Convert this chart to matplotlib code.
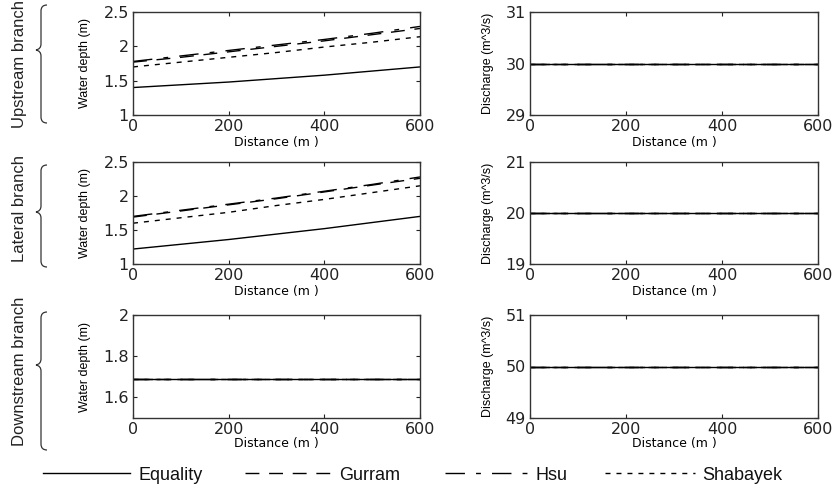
import matplotlib
matplotlib.use("Agg")
import matplotlib.pyplot as plt
from matplotlib.path import Path
from matplotlib.patches import PathPatch
from matplotlib.lines import Line2D

# distance along each branch (m)
distance = [0, 100, 200, 300, 400, 500, 600]

# water depth (m), upstream branch
up_equality = [1.40, 1.44, 1.48, 1.53, 1.58, 1.64, 1.70]
up_gurram = [1.77, 1.84, 1.92, 2.00, 2.08, 2.17, 2.26]
up_hsu = [1.78, 1.86, 1.94, 2.02, 2.10, 2.19, 2.29]
up_shabayek = [1.70, 1.77, 1.84, 1.91, 1.99, 2.06, 2.14]

# water depth (m), lateral branch
lat_equality = [1.22, 1.29, 1.36, 1.44, 1.52, 1.61, 1.70]
lat_gurram = [1.69, 1.78, 1.87, 1.96, 2.06, 2.16, 2.26]
lat_hsu = [1.70, 1.79, 1.88, 1.97, 2.07, 2.17, 2.28]
lat_shabayek = [1.60, 1.68, 1.76, 1.86, 1.95, 2.05, 2.15]

# water depth (m), downstream branch (all methods agree)
down_depth = [1.69, 1.69, 1.69, 1.69, 1.69, 1.69, 1.69]

# discharge (m^3/s)
up_q = [30, 30, 30, 30, 30, 30, 30]
lat_q = [20, 20, 20, 20, 20, 20, 20]
down_q = [50, 50, 50, 50, 50, 50, 50]

methods = ["Equality", "Gurram", "Hsu", "Shabayek"]
styles = ["-", (0, (10, 7)), (0, (14, 8, 3.5, 8)), (0, (3.6, 4.3))]
branches = ["Upstream branch", "Lateral branch", "Downstream branch"]

depth_series = [
    [up_equality, up_gurram, up_hsu, up_shabayek],
    [lat_equality, lat_gurram, lat_hsu, lat_shabayek],
    [down_depth] * 4,
]
q_series = [[up_q] * 4, [lat_q] * 4, [down_q] * 4]

depth_lims = [(1, 2.5), (1, 2.5), (1.5, 2)]
depth_ticks = [[1, 1.5, 2, 2.5], [1, 1.5, 2, 2.5], [1.6, 1.8, 2]]
q_lims = [(29, 31), (19, 21), (49, 51)]

W, H = 837, 488
fig = plt.figure(figsize=(W / 100, H / 100), dpi=100)
narrow = ["Liberation Sans", "DejaVu Sans"]

# rows in pixels: (top, bottom)
rows = [(12, 115), (162, 264), (315, 418)]
cols = [(133, 420), (530, 818)]


def pix_axes(x0, x1, y0, y1):
    return fig.add_axes([x0 / W, 1 - y1 / H, (x1 - x0) / W, (y1 - y0) / H])


def style_axes(ax):
    ax.set_xlim(0, 600)
    ax.set_xticks([0, 200, 400, 600])
    ax.tick_params(direction="in", top=True, right=True, length=3,
                   labelsize=11.5, pad=3, colors="#222222")
    for s in ax.spines.values():
        s.set_linewidth(1.0)
        s.set_color("#333333")


def fmt(v):
    return ("%g" % v)


for r in range(3):
    y0, y1 = rows[r]
    pad = 0 if r == 2 else 1.5

    ax = pix_axes(cols[0][0], cols[0][1], y0, y1)
    for k in range(4):
        ax.plot(distance, depth_series[r][k], color="black",
                linestyle=styles[k], lw=1.0)
    style_axes(ax)
    ax.set_ylim(*depth_lims[r])
    ax.set_yticks(depth_ticks[r])
    ax.set_yticklabels([fmt(v) for v in depth_ticks[r]])
    ax.set_ylabel("Water depth (m)", fontsize=9, family=narrow, labelpad=9)
    ax.set_xlabel("Distance (m )", fontsize=9, labelpad=pad)

    ax = pix_axes(cols[1][0], cols[1][1], y0, y1)
    for k in range(4):
        ax.plot(distance, q_series[r][k], color="black",
                linestyle=styles[k], lw=1.0)
    style_axes(ax)
    lo, hi = q_lims[r]
    ax.set_ylim(lo, hi)
    ax.set_yticks([lo, lo + 1, hi])
    ax.set_ylabel("Discharge (m^3/s)", fontsize=9, family=narrow, labelpad=8)
    ax.set_xlabel("Distance (m )", fontsize=9, labelpad=pad)


def fp(px, py):
    return (px / W, 1 - py / H)


def brace(top, tip, bottom, x=41):
    # left curly brace in pixel coords, tip pointing left
    verts = [fp(x + 6, top), fp(x, top), fp(x, top + 6),
             fp(x, tip - 6), fp(x, tip - 1), fp(x - 5, tip),
             fp(x, tip + 1), fp(x, tip + 6), fp(x, bottom - 6),
             fp(x, bottom), fp(x + 6, bottom)]
    codes = [Path.MOVETO, Path.CURVE3, Path.CURVE3,
             Path.LINETO, Path.CURVE3, Path.CURVE3,
             Path.CURVE3, Path.CURVE3, Path.LINETO,
             Path.CURVE3, Path.CURVE3]
    fig.add_artist(PathPatch(Path(verts, codes), fill=False, lw=0.9,
                             edgecolor="#333333", transform=fig.transFigure))


brace_pos = [(5, 50, 123), (165, 212, 267), (312, 365, 450)]
label_y = [64, 209, 371]
for b in range(3):
    brace(*brace_pos[b])
    fig.text(20 / W, 1 - label_y[b] / H, branches[b], rotation=90,
             ha="center", va="center", fontsize=12, family=narrow,
             color="#222222")

# legend row along the bottom: (line start, line end, text start) in pixels
legend_x = [(43, 130, 139), (245, 333, 339), (445, 535, 536), (605, 695, 702)]
legend_y = 473
for k in range(4):
    x0, x1, xt = legend_x[k]
    (a, yy), (b, _) = fp(x0, legend_y), fp(x1, legend_y)
    fig.add_artist(Line2D([a, b], [yy, yy], color="black", lw=1.0,
                          linestyle=styles[k], transform=fig.transFigure))
    fig.text(xt / W, yy, methods[k], ha="left", va="center_baseline",
             fontsize=13, family=narrow, color="#111111")

fig.savefig("out.png", dpi=100)
